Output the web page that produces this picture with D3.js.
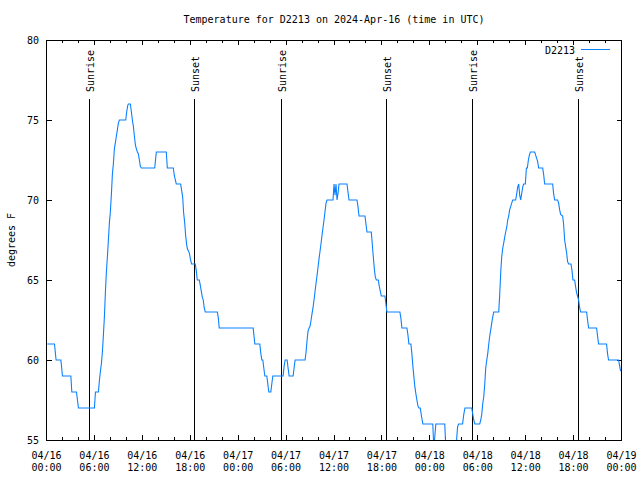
<!DOCTYPE html>
<html>
<head>
<meta charset="utf-8">
<script src="https://d3js.org/d3.v7.min.js"></script>
<style>
  body { margin: 0; background: #fff; }
  text { font-family: "DejaVu Sans Mono", monospace; font-size: 10px; fill: #000; }
</style>
</head>
<body>
<div id="chart"></div>
<script>
// Readings, hours after 2024-04-16 00:00 UTC
var hours = [0.1, 1.0, 1.2, 1.8, 2.0, 3.05, 3.17, 3.75, 4.0, 6.0, 6.13, 6.5, 6.63, 6.75, 6.88, 7.0, 7.13, 7.25, 7.38, 7.5,
  7.63, 7.75, 7.88, 8.0, 8.13, 8.25, 8.38, 8.5, 8.63, 8.75, 8.88, 9.0, 9.13, 9.92, 10.04, 10.17, 10.25, 10.5, 10.63, 10.75,
  10.88, 11.0, 11.13, 11.25, 11.38, 11.5, 11.63, 11.75, 11.88, 13.55, 13.67, 13.75, 15.0, 15.13, 15.88, 16.0, 16.13, 16.25, 16.8, 16.92,
  17.05, 17.17, 17.3, 17.42, 17.55, 17.67, 17.8, 17.92, 18.04, 18.17, 18.63, 18.75, 18.88, 19.13, 19.25, 19.38, 19.5, 19.63, 19.75, 19.88,
  21.38, 21.5, 21.63, 25.88, 25.96, 26.09, 26.71, 26.84, 26.96, 27.09, 27.21, 27.34, 27.59, 27.71, 27.84, 28.09, 28.21, 28.34, 29.63, 29.75,
  29.88, 30.13, 30.25, 30.38, 30.88, 31.0, 31.13, 32.38, 32.5, 32.63, 32.75, 32.88, 33.0, 33.13, 33.25, 33.38, 33.5, 33.63, 33.75, 33.88,
  34.0, 34.13, 34.25, 34.38, 34.5, 34.63, 34.75, 34.88, 35.0, 35.13, 35.88, 36.0, 36.13, 36.25, 36.38, 36.5, 36.63, 37.63, 37.75, 37.88,
  38.88, 39.0, 39.13, 39.88, 40.0, 40.13, 40.67, 40.8, 40.92, 41.05, 41.17, 41.3, 41.55, 41.67, 41.8, 41.92, 42.38, 42.5, 42.63, 44.25,
  44.38, 44.5, 45.13, 45.25, 45.38, 45.63, 45.75, 45.88, 46.0, 46.13, 46.25, 46.38, 46.5, 46.63, 46.8, 46.95, 47.13, 48.37, 48.5, 48.62,
  48.75, 49.87, 50.0, 50.2, 51.2, 51.35, 51.47, 51.6, 52.1, 52.25, 52.4, 53.25, 53.38, 53.5, 53.63, 54.25, 54.38, 54.5, 54.63, 54.75,
  54.88, 55.0, 55.13, 55.25, 55.38, 55.5, 55.63, 55.75, 55.88, 56.0, 56.63, 56.75, 56.88, 57.0, 57.13, 57.25, 57.38, 57.5, 57.63, 57.75,
  57.88, 58.0, 58.13, 58.25, 58.38, 58.75, 58.88, 59.0, 59.13, 59.25, 59.38, 59.5, 59.63, 59.75, 59.96, 60.09, 60.21, 60.34, 60.46, 60.59,
  61.13, 61.25, 61.38, 61.5, 61.63, 62.13, 62.25, 62.38, 63.38, 63.5, 63.63, 64.0, 64.13, 64.25, 64.38, 64.63, 64.75, 64.88, 65.0, 65.13,
  65.25, 65.38, 65.67, 65.8, 65.92, 66.13, 66.25, 66.38, 66.5, 66.63, 66.75, 66.88, 67.63, 67.75, 67.88, 68.88, 69.0, 69.13, 70.13, 70.25,
  70.38, 71.63, 71.71, 71.88];

var temps = [61, 61, 60, 60, 59, 59, 58, 58, 57, 57, 58, 58, 58.75, 59.3, 59.8, 60.5, 61.6, 62.7, 64.3, 65.5,
  66.5, 67.5, 68.6, 69.3, 70.4, 71.6, 72.3, 73.2, 73.6, 74, 74.4, 74.8, 75, 75, 75.5, 75.9, 76, 76, 75.5, 75,
  74.6, 74, 73.45, 73.2, 73, 72.9, 72.5, 72.1, 72, 72, 72.6, 73, 73, 72, 72, 71.55, 71.25, 71, 71, 70.6,
  70.2, 69.2, 68.6, 67.8, 67.2, 66.9, 66.8, 66.6, 66.25, 66, 66, 65.6, 65, 65, 64.7, 64.3, 63.95, 63.75, 63.25, 63,
  63, 62.7, 62, 62, 61.6, 61, 61, 60.4, 60, 60, 59.5, 59, 59, 58.5, 58, 58, 58.5, 59, 59, 59.6,
  60, 60, 59.5, 59, 59, 59.5, 60, 60, 60.5, 61.25, 61.8, 62, 62.1, 62.5, 62.9, 63.3, 63.75, 64.3, 64.8, 65.3,
  65.8, 66.35, 66.8, 67.3, 67.8, 68.3, 68.75, 69.3, 69.8, 70, 70, 71, 70.3, 71, 70, 70.4, 71, 71, 70.5, 70,
  70, 69.6, 69, 69, 68.5, 68, 68, 67.2, 66.45, 65.7, 65.2, 65, 65, 64.6, 64.3, 64, 64, 63.5, 63, 63,
  62.6, 62, 62, 61.6, 61, 61, 60.4, 59.6, 58.96, 58.3, 57.9, 57.5, 57.15, 57, 57, 56.5, 56, 56, 54.5, 55.2,
  56, 56, 54.5, 54, 54, 55, 55.8, 56, 56, 56.6, 57, 57, 56.6, 56.25, 56, 56, 56.25, 56.6, 57.3, 57.7,
  58.5, 59.5, 60, 60.4, 61, 61.5, 61.9, 62.3, 62.7, 63, 63, 64.1, 65.5, 66.45, 67, 67.3, 67.7, 68, 68.3, 68.75,
  69, 69.4, 69.6, 69.8, 70, 70, 70.4, 70.8, 71, 70.3, 70, 70.4, 70.8, 71, 71, 72, 72, 72.5, 72.8, 73,
  73, 72.8, 72.6, 72.4, 72, 72, 71.6, 71, 71, 70.4, 70, 70, 69.8, 69.4, 69.1, 69, 68.5, 67.5, 67.1, 66.7,
  66.15, 66, 66, 65.6, 65, 65, 64.6, 64.2, 64, 63.75, 63.3, 63, 63, 62.5, 62, 62, 61.5, 61, 61, 60.4,
  60, 60, 59.8, 59.3];

// Sunrise / sunset markers
var sunHours = [5.37, 18.5, 29.37, 42.5, 53.25, 66.5];
var sunLabels = ["Sunrise", "Sunset", "Sunrise", "Sunset", "Sunrise", "Sunset"];

var yTicks = [55, 60, 65, 70, 75, 80];
var seriesName = "D2213";
var title = "Temperature for D2213 on 2024-Apr-16 (time in UTC)";

var svgWidth = 640;
var svgHeight = 480;
var plot = { left: 46.5, right: 621.5, top: 40, bottom: 440 };

var start = new Date(Date.UTC(2024, 3, 16, 0, 0));
var end = new Date(Date.UTC(2024, 3, 19, 0, 0));
function toDate(h) { return new Date(start.getTime() + h * 3600 * 1000); }

var data = hours.map((h, i) => ({ time: toDate(h), temp: temps[i] }));

var svg = d3.select("#chart")
  .append("svg")
  .attr("width", svgWidth)
  .attr("height", svgHeight);

var xScale = d3.scaleUtc().domain([start, end]).range([plot.left, plot.right]);
var yScale = d3.scaleLinear().domain([55, 80]).range([plot.bottom, plot.top]);

// tick marks, mirrored on both sides
var majorX = xScale.ticks(d3.utcHour.every(6));
var minorX = xScale.ticks(d3.utcHour.every(2)).filter(d => d.getUTCHours() % 6 !== 0);

var ticks = svg.append("g")
  .attr("stroke", "#000")
  .attr("shape-rendering", "crispEdges");

[[majorX, 5], [minorX, 3]].forEach(function (set) {
  set[0].forEach(function (d) {
    var x = xScale(d);
    ticks.append("line").attr("x1", x).attr("x2", x).attr("y1", plot.bottom).attr("y2", plot.bottom - set[1]);
    ticks.append("line").attr("x1", x).attr("x2", x).attr("y1", plot.top).attr("y2", plot.top + set[1]);
  });
});

yTicks.forEach(function (v) {
  var y = yScale(v);
  ticks.append("line").attr("x1", plot.left).attr("x2", plot.left + 5).attr("y1", y).attr("y2", y);
  ticks.append("line").attr("x1", plot.right).attr("x2", plot.right - 5).attr("y1", y).attr("y2", y);
});

// tick labels
var fmtDay = d3.utcFormat("%m/%d");
var fmtTime = d3.utcFormat("%H:%M");
var xLabels = svg.append("g").attr("text-anchor", "middle");
majorX.forEach(function (d) {
  var t = xLabels.append("text").attr("x", xScale(d));
  t.append("tspan").attr("x", xScale(d)).attr("y", 459).text(fmtDay(d));
  t.append("tspan").attr("x", xScale(d)).attr("y", 471).text(fmtTime(d));
});

svg.append("g").attr("text-anchor", "end")
  .selectAll("text")
  .data(yTicks)
  .enter()
  .append("text")
  .attr("x", 39)
  .attr("y", d => yScale(d) + 3.5)
  .text(d => d);

// sunrise / sunset lines
var sun = svg.append("g");
sunHours.forEach(function (h, i) {
  var x = Math.round(xScale(toDate(h))) + 0.5;
  sun.append("line")
    .attr("x1", x).attr("x2", x)
    .attr("y1", 99).attr("y2", plot.bottom)
    .attr("stroke", "#000")
    .attr("shape-rendering", "crispEdges");
  sun.append("text")
    .attr("transform", `translate(${x + 4}, 92) rotate(-90)`)
    .attr("text-anchor", "start")
    .text(sunLabels[i]);
});

// temperature line, clipped to the plot box
svg.append("clipPath").attr("id", "clip")
  .append("rect")
  .attr("x", plot.left).attr("y", plot.top)
  .attr("width", plot.right - plot.left).attr("height", plot.bottom - plot.top);

var line = d3.line()
  .x(d => xScale(d.time))
  .y(d => yScale(d.temp));

svg.append("path")
  .datum(data)
  .attr("clip-path", "url(#clip)")
  .attr("fill", "none")
  .attr("stroke", "#0a80ff")
  .attr("stroke-width", 1.1)
  .attr("d", line);

// border
svg.append("rect")
  .attr("x", plot.left).attr("y", plot.top)
  .attr("width", plot.right - plot.left).attr("height", plot.bottom - plot.top)
  .attr("fill", "none")
  .attr("stroke", "#000")
  .attr("shape-rendering", "crispEdges");

// legend
svg.append("text").attr("x", 575).attr("y", 54).attr("text-anchor", "end").text(seriesName);
svg.append("line")
  .attr("x1", 581).attr("x2", 610).attr("y1", 49.5).attr("y2", 49.5)
  .attr("stroke", "#0a80ff");

// title and y label
svg.append("text")
  .attr("x", (plot.left + plot.right) / 2)
  .attr("y", 23)
  .attr("text-anchor", "middle")
  .text(title);

svg.append("text")
  .attr("transform", `translate(15, ${(plot.top + plot.bottom) / 2}) rotate(-90)`)
  .attr("text-anchor", "middle")
  .text("degrees F");
</script>
</body>
</html>
